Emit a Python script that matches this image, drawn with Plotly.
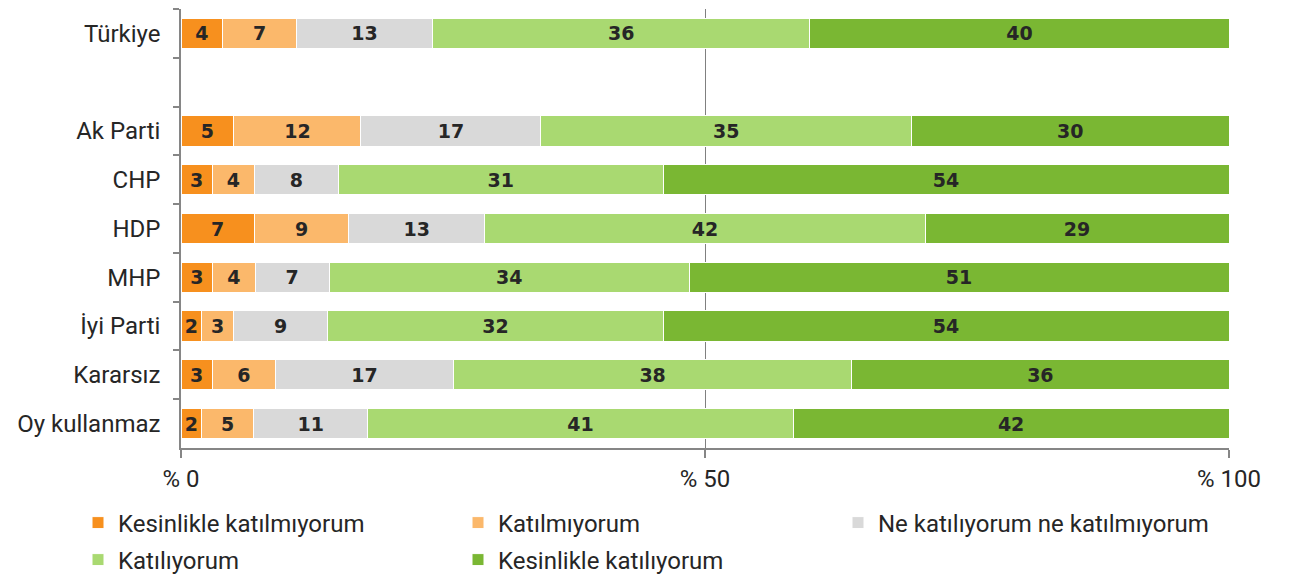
import plotly.graph_objects as go

categories = ["Türkiye", " ", "Ak Parti", "CHP", "HDP", "MHP", "İyi Parti", "Kararsız", "Oy kullanmaz"]
series_names = ["Kesinlikle katılmıyorum", "Katılmıyorum", "Ne katılıyorum ne katılmıyorum",
                "Katılıyorum", "Kesinlikle katılıyorum"]
kesinlikle_katilmiyorum = [4, None, 5, 3, 7, 3, 2, 3, 2]
katilmiyorum = [7, None, 12, 4, 9, 4, 3, 6, 5]
ne_ne = [13, None, 17, 8, 13, 7, 9, 17, 11]
katiliyorum = [36, None, 35, 31, 42, 34, 32, 38, 41]
kesinlikle_katiliyorum = [40, None, 30, 54, 29, 51, 54, 36, 42]
tick_vals = [0, 50, 100]
tick_text = ["% 0", "% 50", "% 100"]

colors = ["#F7901E", "#FBB86B", "#D9D9D9", "#A9D971", "#7AB733"]
series = [kesinlikle_katilmiyorum, katilmiyorum, ne_ne, katiliyorum, kesinlikle_katiliyorum]
legend_ids = ["legend", "legend2", "legend3", "legend4", "legend5"]
# legend text start (px) and row centre (px)
legend_pos = [(118, 523), (498, 523), (878, 523), (118, 560), (498, 560)]

FONT = "Roboto, sans-serif"
TXT = "#262626"

fig = go.Figure()
for name, vals, col, lg in zip(series_names, series, colors, legend_ids):
    fig.add_trace(go.Bar(
        y=categories, x=vals, name=name, orientation="h", legend=lg,
        marker=dict(color=col, line=dict(color="white", width=1)),
        text=[("" if v is None else str(v)) for v in vals],
        texttemplate="%{text}", textposition="inside", insidetextanchor="middle",
        textangle=0,
        textfont=dict(family="DejaVu Sans, sans-serif", size=19, color=TXT, weight="bold"),
        width=0.62,
    ))

legends = {}
for lg, (px, py) in zip(legend_ids, legend_pos):
    legends[lg] = dict(orientation="h", xanchor="left", yanchor="middle",
                       x=(px - 40) / 1296, y=1 - py / 574,
                       xref="container", yref="container",
                       font=dict(family=FONT, size=24, color=TXT), itemwidth=30,
                       bgcolor="rgba(0,0,0,0)", borderwidth=0)

fig.update_layout(
    barmode="stack", barnorm="percent",
    width=1296, height=574,
    margin=dict(l=181, r=67, t=9, b=126, autoexpand=False),
    plot_bgcolor="white", paper_bgcolor="white",
    font=dict(family=FONT, size=24, color=TXT),
    uniformtext=dict(minsize=19, mode="show"),
    showlegend=True,
    **legends,
)
fig.update_xaxes(range=[0, 100], tickvals=tick_vals, ticktext=tick_text,
                 showgrid=True, gridcolor="#808080", gridwidth=1.3,
                 showline=True, linecolor="#868686", linewidth=1.5,
                 ticks="outside", ticklen=8, tickcolor="#868686", tickwidth=1.5,
                 tickfont=dict(family=FONT, size=24, color=TXT), zeroline=False,
                 automargin=False)
fig.update_yaxes(categoryorder="array", categoryarray=categories, autorange="reversed",
                 showline=True, linecolor="#868686", linewidth=1.5,
                 ticks="outside", ticklen=6, tickcolor="#868686", tickwidth=1.5,
                 tickson="boundaries", showgrid=False, automargin=False,
                 ticklabelstandoff=14,
                 tickfont=dict(family=FONT, size=24, color=TXT))

fig.write_html("out.html", config={"displayModeBar": False},
               post_script="document.body.style.margin='0';")
